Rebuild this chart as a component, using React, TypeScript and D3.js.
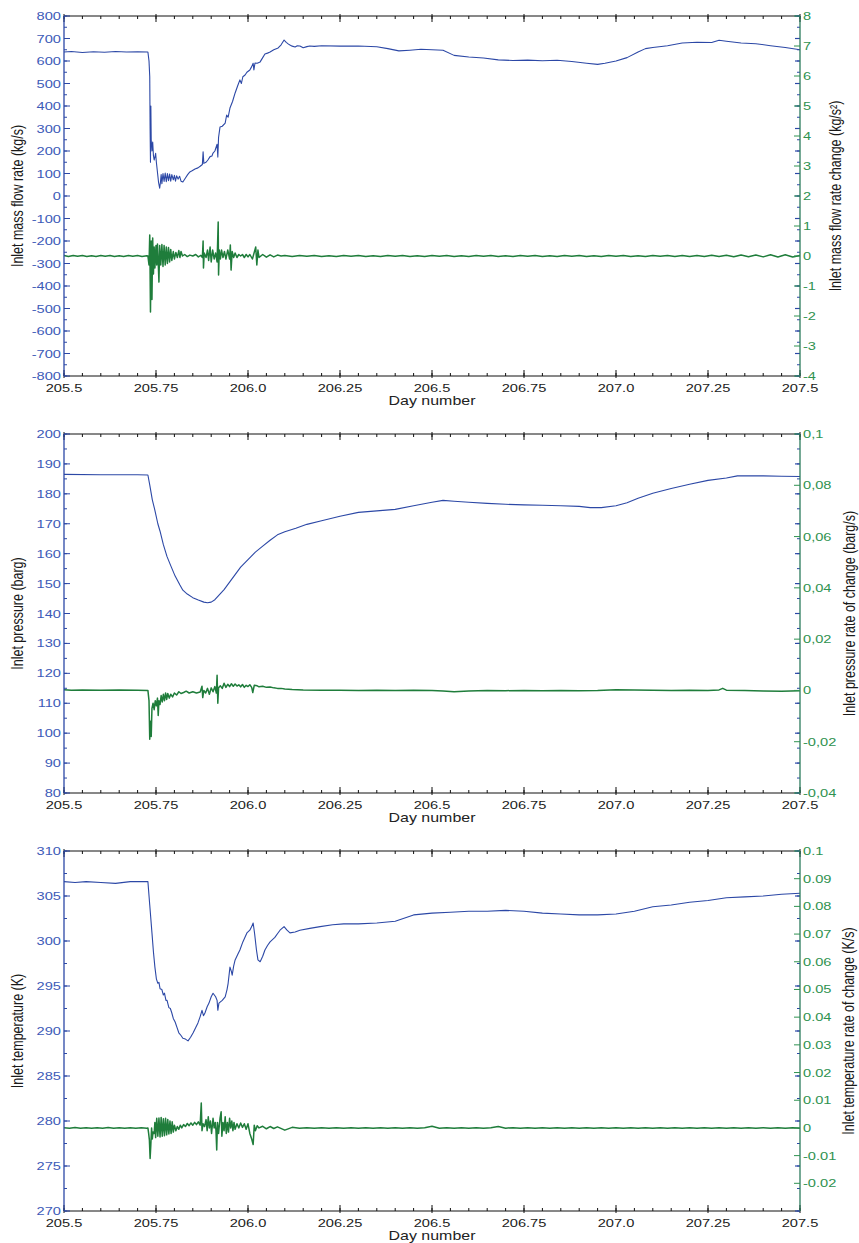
import React from "react";
import * as d3 from "d3";

// ---- shared x axis ----
const dayDomain = [205.5, 207.5];
const dayTicks = [205.5, 205.75, 206, 206.25, 206.5, 206.75, 207, 207.25, 207.5];
const dayTickLabels = ["205.5", "205.75", "206.0", "206.25", "206.5", "206.75", "207.0", "207.25", "207.5"];

// ---- panel 1: inlet mass flow rate (kg/s) ----
const massFlow: [number, number][] = [
  [205.5, 640], [205.52, 642], [205.55, 638], [205.58, 641], [205.61, 639], [205.64, 642], [205.67, 640],
  [205.7, 641], [205.728, 640], [205.731, 600], [205.733, 530], [205.734, 300], [205.735, 150], [205.736, 400],
  [205.737, 250], [205.739, 200], [205.741, 240], [205.743, 180], [205.745, 160], [205.747, 173], [205.749, 190],
  [205.751, 150], [205.753, 120], [205.757, 60], [205.76, 35], [205.762, 60], [205.764, 95], [205.766, 55],
  [205.769, 100], [205.772, 65], [205.775, 102], [205.778, 64], [205.781, 100], [205.784, 68], [205.787, 98],
  [205.79, 66], [205.793, 95], [205.797, 72], [205.8, 92], [205.803, 66], [205.806, 90], [205.81, 75],
  [205.814, 88], [205.818, 66], [205.823, 62], [205.83, 80], [205.836, 95], [205.842, 107], [205.848, 112],
  [205.856, 120], [205.864, 125], [205.87, 132], [205.876, 140], [205.878, 196], [205.88, 145], [205.886, 150],
  [205.891, 160], [205.897, 175], [205.902, 178], [205.905, 191], [205.91, 200], [205.916, 230], [205.918, 173],
  [205.92, 260], [205.924, 307], [205.93, 310], [205.938, 324], [205.942, 360], [205.946, 350], [205.951, 391],
  [205.958, 420], [205.965, 458], [205.972, 490], [205.978, 516], [205.982, 500], [205.986, 530], [205.992, 538],
  [205.997, 550], [206.005, 560], [206.01, 575], [206.014, 590], [206.016, 560], [206.019, 591], [206.025, 590],
  [206.033, 596], [206.04, 615], [206.046, 631], [206.053, 635], [206.06, 640], [206.07, 650], [206.082, 658],
  [206.09, 672], [206.098, 693], [206.104, 683], [206.11, 675], [206.114, 671], [206.12, 666], [206.128, 662],
  [206.134, 668], [206.141, 667], [206.15, 659], [206.16, 664], [206.168, 667], [206.18, 665], [206.2, 668],
  [206.25, 666], [206.3, 667], [206.35, 663], [206.38, 655], [206.41, 645], [206.44, 648], [206.47, 652],
  [206.5, 650], [206.53, 648], [206.56, 625], [206.6, 618], [206.64, 613], [206.68, 605], [206.72, 602],
  [206.76, 604], [206.8, 601], [206.84, 603], [206.88, 598], [206.92, 590], [206.95, 585], [206.97, 590],
  [207.0, 600], [207.03, 615], [207.06, 640], [207.08, 655], [207.1, 660], [207.14, 668], [207.18, 680],
  [207.22, 683], [207.26, 682], [207.28, 692], [207.3, 688], [207.34, 680], [207.38, 677], [207.42, 668],
  [207.46, 660], [207.5, 650],
];
// inlet mass flow rate change (kg/s²)
const massFlowChange: [number, number][] = [
  [205.5, 0.015], [205.512, -0.015], [205.525, 0.02], [205.537, -0.01], [205.55, 0.015], [205.562, -0.02],
  [205.575, 0.01], [205.587, -0.015], [205.6, 0.02], [205.612, -0.01], [205.625, 0.015], [205.637, -0.02],
  [205.65, 0.01], [205.662, -0.015], [205.675, 0.02], [205.687, -0.01], [205.7, 0.015], [205.712, -0.015],
  [205.725, 0.01], [205.728, 0.0], [205.731, -0.3], [205.733, 0.7], [205.735, -1.87], [205.737, 0.5],
  [205.739, -1.45], [205.741, 0.6], [205.743, -0.6], [205.745, 0.3], [205.747, -0.4], [205.75, 0.35],
  [205.752, -0.3], [205.754, 0.4], [205.756, -0.2], [205.758, -0.87], [205.76, 0.35], [205.763, -0.3],
  [205.766, 0.38], [205.769, -0.35], [205.772, 0.35], [205.775, -0.3], [205.778, 0.3], [205.781, -0.25],
  [205.784, 0.28], [205.787, -0.2], [205.79, 0.22], [205.793, -0.15], [205.797, 0.15], [205.8, -0.1],
  [205.804, 0.12], [205.808, -0.05], [205.812, 0.18], [205.815, -0.05], [205.818, 0.15], [205.822, 0.0],
  [205.828, 0.05], [205.835, -0.02], [205.842, 0.03], [205.85, 0.0], [205.858, 0.05], [205.865, -0.03],
  [205.872, 0.02], [205.876, -0.05], [205.878, 0.5], [205.879, -0.4], [205.881, 0.1], [205.886, -0.05],
  [205.89, 0.2], [205.893, -0.15], [205.897, 0.3], [205.9, -0.2], [205.904, 0.2], [205.908, -0.1],
  [205.912, 0.1], [205.916, -0.2], [205.919, 1.13], [205.92, -0.63], [205.922, 0.2], [205.925, -0.1],
  [205.928, 0.2], [205.932, -0.05], [205.936, 0.15], [205.94, -0.1], [205.945, 0.2], [205.95, -0.1],
  [205.952, 0.37], [205.954, -0.47], [205.957, 0.15], [205.961, -0.05], [205.965, 0.1], [205.97, -0.05],
  [205.975, 0.05], [205.98, 0.0], [205.985, 0.05], [205.99, -0.05], [205.995, 0.05], [206.0, -0.03],
  [206.005, 0.05], [206.012, -0.1], [206.021, 0.3], [206.024, -0.3], [206.027, 0.2], [206.03, -0.05],
  [206.04, 0.05], [206.05, -0.04], [206.06, 0.04], [206.07, -0.03], [206.08, 0.03], [206.09, 0.0],
  [206.1, 0.02], [206.12, -0.015], [206.14, 0.015], [206.16, -0.01], [206.18, 0.015], [206.2, -0.015],
  [206.22, 0.01], [206.24, -0.015], [206.26, 0.015], [206.28, -0.01], [206.3, 0.015], [206.32, -0.015],
  [206.34, 0.01], [206.36, -0.015], [206.38, 0.015], [206.4, -0.01], [206.42, 0.015], [206.44, -0.015],
  [206.46, 0.01], [206.48, -0.015], [206.5, 0.015], [206.52, -0.01], [206.54, 0.015], [206.56, -0.015],
  [206.58, 0.01], [206.6, -0.015], [206.62, 0.015], [206.64, -0.01], [206.66, 0.015], [206.68, -0.015],
  [206.7, 0.01], [206.72, -0.015], [206.74, 0.015], [206.76, -0.01], [206.78, 0.015], [206.8, -0.015],
  [206.82, 0.01], [206.84, -0.015], [206.86, 0.015], [206.88, -0.01], [206.9, 0.015], [206.92, -0.015],
  [206.94, 0.01], [206.96, -0.015], [206.98, 0.015], [207.0, -0.01], [207.02, 0.015], [207.04, -0.015],
  [207.06, 0.01], [207.08, -0.015], [207.1, 0.015], [207.12, -0.01], [207.14, 0.015], [207.16, -0.015],
  [207.18, 0.02], [207.2, -0.015], [207.22, 0.02], [207.24, -0.02], [207.26, 0.025], [207.28, -0.02],
  [207.3, 0.025], [207.32, -0.025], [207.34, 0.03], [207.36, -0.025], [207.38, 0.035], [207.4, -0.03],
  [207.42, 0.04], [207.44, -0.035], [207.46, 0.04], [207.48, -0.035], [207.5, 0.02],
];

// ---- panel 2: inlet pressure (barg) ----
const pressure: [number, number][] = [
  [205.5, 186.5], [205.6, 186.4], [205.7, 186.4], [205.728, 186.3], [205.733, 183], [205.74, 178],
  [205.747, 174.5], [205.755, 170], [205.761, 167.5], [205.77, 163], [205.78, 159], [205.79, 156],
  [205.802, 152.5], [205.815, 149.5], [205.823, 147.8], [205.835, 146.5], [205.85, 145.3], [205.865, 144.5],
  [205.88, 143.8], [205.89, 143.6], [205.9, 143.8], [205.91, 144.6], [205.92, 146], [205.935, 148],
  [205.95, 150.5], [205.965, 153], [205.98, 155.5], [206.0, 158], [206.02, 160.5], [206.04, 162.5],
  [206.06, 164.5], [206.08, 166.3], [206.1, 167.3], [206.13, 168.5], [206.16, 169.8], [206.2, 171],
  [206.25, 172.5], [206.3, 173.8], [206.35, 174.3], [206.4, 174.8], [206.45, 176], [206.5, 177.2],
  [206.53, 177.8], [206.56, 177.5], [206.6, 177.2], [206.65, 176.8], [206.7, 176.5], [206.75, 176.3],
  [206.8, 176.2], [206.85, 176.0], [206.9, 175.8], [206.93, 175.4], [206.96, 175.4], [207.0, 176.0],
  [207.03, 177], [207.06, 178.5], [207.1, 180.2], [207.15, 181.8], [207.2, 183.2], [207.25, 184.5],
  [207.3, 185.3], [207.33, 186], [207.4, 186], [207.45, 185.9], [207.5, 185.8],
];
// inlet pressure rate of change (barg/s)
const pressureChange: [number, number][] = [
  [205.5, 0.0003], [205.52, 0.0001], [205.55, 0.0002], [205.6, 0.0001], [205.65, 0.0002], [205.7, 0.0001],
  [205.728, 0.0], [205.731, -0.004], [205.733, -0.019], [205.735, -0.012], [205.737, -0.018], [205.739, -0.007],
  [205.742, -0.005], [205.745, -0.0075], [205.748, -0.004], [205.751, -0.006], [205.754, -0.003],
  [205.756, -0.0098], [205.758, -0.004], [205.761, -0.0055], [205.764, -0.002], [205.767, -0.0045],
  [205.77, -0.0015], [205.773, -0.004], [205.776, -0.001], [205.779, -0.0035], [205.782, -0.0012],
  [205.786, -0.003], [205.79, -0.0015], [205.795, -0.0025], [205.8, -0.001], [205.806, -0.0018],
  [205.812, -0.0005], [205.818, -0.0012], [205.825, -0.0008], [205.832, -0.0003], [205.84, -0.001],
  [205.85, -0.0005], [205.86, -0.001], [205.87, -0.0006], [205.875, 0.0016], [205.877, -0.0028],
  [205.88, 0.0], [205.885, -0.001], [205.89, 0.0008], [205.895, -0.0015], [205.9, 0.001], [205.905, -0.0005],
  [205.91, 0.0015], [205.914, -0.001], [205.916, 0.0059], [205.918, -0.005], [205.92, 0.001],
  [205.925, 0.0018], [205.93, 0.0008], [205.935, 0.0028], [205.94, 0.0012], [205.945, 0.0024],
  [205.95, 0.0015], [205.955, 0.0026], [205.96, 0.0016], [205.965, 0.0025], [205.97, 0.0017],
  [205.975, 0.0022], [205.98, 0.0014], [205.985, 0.0023], [205.99, 0.0012], [205.995, 0.002],
  [206.0, 0.0015], [206.005, 0.0022], [206.01, 0.0012], [206.013, -0.0008], [206.017, 0.002],
  [206.025, 0.0018], [206.03, 0.0014], [206.04, 0.0016], [206.05, 0.0012], [206.06, 0.0013],
  [206.07, 0.001], [206.08, 0.0008], [206.09, 0.0008], [206.1, 0.0006], [206.12, 0.0004], [206.15, 0.0002],
  [206.2, 0.0001], [206.25, 0.0001], [206.3, 0.0], [206.35, 0.0001], [206.4, 0.0], [206.45, 0.0001],
  [206.5, 0.0], [206.53, -0.0002], [206.56, -0.0005], [206.6, -0.0002], [206.65, 0.0], [206.7, -0.0001],
  [206.75, 0.0], [206.8, -0.0001], [206.85, 0.0], [206.9, -0.0001], [206.95, 0.0], [207.0, 0.0003],
  [207.05, 0.0002], [207.1, 0.0001], [207.15, 0.0], [207.2, 0.0001], [207.25, 0.0], [207.28, 0.0002],
  [207.29, 0.0008], [207.3, 0.0001], [207.35, 0.0], [207.4, -0.0002], [207.45, -0.0003], [207.5, -0.0001],
];

// ---- panel 3: inlet temperature (K) ----
const temperature: [number, number][] = [
  [205.5, 306.6], [205.53, 306.5], [205.56, 306.6], [205.6, 306.5], [205.64, 306.4], [205.68, 306.6],
  [205.728, 306.6], [205.733, 304], [205.739, 300.9], [205.743, 298.8], [205.747, 297.1], [205.751, 295.8],
  [205.755, 295.3], [205.758, 295.4], [205.761, 294.7], [205.766, 294.6], [205.77, 294.0], [205.773, 294.2],
  [205.777, 293.4], [205.78, 293.4], [205.785, 292.6], [205.789, 292.5], [205.793, 292.0], [205.797, 291.4],
  [205.802, 291.0], [205.807, 290.4], [205.812, 289.8], [205.818, 289.5], [205.823, 289.2], [205.83, 289.1],
  [205.837, 288.9], [205.844, 289.3], [205.851, 289.8], [205.858, 290.4], [205.864, 290.9], [205.87, 291.6],
  [205.875, 292.3], [205.879, 291.7], [205.883, 292.0], [205.889, 292.7], [205.894, 293.1], [205.9, 293.8],
  [205.905, 294.2], [205.912, 293.8], [205.916, 293.4], [205.918, 292.3], [205.921, 293.1], [205.93, 293.4],
  [205.938, 293.8], [205.943, 294.6], [205.946, 295.3], [205.951, 297.1], [205.955, 296.6], [205.957, 296.2],
  [205.961, 297.2], [205.965, 297.9], [205.972, 298.5], [205.978, 299.0], [205.986, 299.9], [205.997, 300.9],
  [206.005, 301.2], [206.01, 301.6], [206.014, 302.0], [206.018, 300.8], [206.023, 299.0], [206.027, 297.9],
  [206.033, 297.7], [206.04, 298.3], [206.046, 299.0], [206.053, 299.5], [206.06, 299.9], [206.073, 300.4],
  [206.08, 300.8], [206.087, 301.2], [206.098, 301.6], [206.106, 301.2], [206.114, 300.9], [206.128, 301.0],
  [206.141, 301.2], [206.168, 301.4], [206.196, 301.6], [206.23, 301.8], [206.26, 301.9], [206.3, 301.9],
  [206.35, 302.0], [206.4, 302.2], [206.45, 302.9], [206.5, 303.1], [206.55, 303.2], [206.6, 303.3],
  [206.65, 303.3], [206.7, 303.4], [206.75, 303.3], [206.8, 303.1], [206.85, 303.0], [206.9, 302.9],
  [206.95, 302.9], [207.0, 303.0], [207.05, 303.3], [207.1, 303.8], [207.15, 304.0], [207.2, 304.3],
  [207.25, 304.5], [207.3, 304.8], [207.35, 304.9], [207.4, 305.0], [207.45, 305.2], [207.5, 305.3],
];
// inlet temperature rate of change (K/s)
const temperatureChange: [number, number][] = [
  [205.5, 0.0001], [205.515, -0.0001], [205.53, 0.00015], [205.545, -0.0001], [205.56, 0.0001],
  [205.575, -0.00015], [205.59, 0.0001], [205.605, -0.0001], [205.62, 0.00015], [205.635, -0.0001],
  [205.65, 0.0001], [205.665, -0.0001], [205.68, 0.0001], [205.695, -0.00015], [205.71, 0.0001],
  [205.725, -0.0001], [205.728, 0.0], [205.73, -0.002], [205.732, -0.0043], [205.734, -0.011],
  [205.736, -0.006], [205.738, 0.0], [205.74, -0.004], [205.742, -0.0015], [205.745, -0.002],
  [205.747, 0.002], [205.749, -0.0035], [205.752, 0.0035], [205.755, -0.003], [205.758, 0.0036],
  [205.761, -0.0033], [205.764, 0.0038], [205.767, -0.003], [205.77, 0.0033], [205.773, -0.0028],
  [205.776, 0.0035], [205.779, -0.0025], [205.782, 0.003], [205.785, -0.0022], [205.788, 0.0025],
  [205.791, -0.002], [205.794, 0.0022], [205.797, -0.0015], [205.8, 0.001], [205.804, -0.001],
  [205.808, 0.0005], [205.812, -0.0005], [205.816, 0.001], [205.82, 0.0], [205.825, 0.0012], [205.83, 0.0005],
  [205.835, 0.0016], [205.84, 0.0008], [205.845, 0.0018], [205.85, 0.001], [205.855, 0.002], [205.86, 0.0012],
  [205.865, 0.0022], [205.87, 0.001], [205.873, 0.009], [205.875, -0.001], [205.878, 0.0015], [205.882, 0.0005],
  [205.886, 0.003], [205.889, -0.001], [205.892, 0.004], [205.895, 0.0], [205.898, 0.0025], [205.901, -0.002],
  [205.905, 0.0035], [205.908, 0.0], [205.911, 0.002], [205.913, -0.001], [205.915, -0.008], [205.917, 0.002],
  [205.92, -0.002], [205.924, 0.0035], [205.927, 0.0058], [205.929, -0.003], [205.932, 0.002],
  [205.935, -0.001], [205.938, 0.004], [205.941, -0.002], [205.944, 0.002], [205.947, -0.0015],
  [205.95, 0.0035], [205.953, 0.0], [205.956, 0.0025], [205.959, -0.001], [205.962, 0.002], [205.965, -0.0005],
  [205.97, 0.0015], [205.975, 0.0], [205.98, 0.0018], [205.985, 0.0002], [205.99, 0.0015], [205.995, -0.0005],
  [206.0, 0.0015], [206.005, -0.002], [206.01, -0.004], [206.014, -0.006], [206.017, 0.001], [206.02, -0.001],
  [206.025, 0.0008], [206.03, 0.0], [206.04, 0.0006], [206.05, -0.0003], [206.06, 0.0005], [206.07, -0.0002],
  [206.08, 0.0004], [206.1, -0.0008], [206.12, 0.0002], [206.14, -0.0001], [206.16, 0.0001],
  [206.18, -0.0001], [206.2, 0.0001], [206.22, -0.0001], [206.24, 0.0001], [206.26, -0.0001],
  [206.28, 0.0001], [206.3, -0.0001], [206.32, 0.0001], [206.34, -0.0001], [206.36, 0.0001],
  [206.38, -0.0001], [206.4, 0.0001], [206.42, -0.0001], [206.44, 0.0001], [206.46, -0.0001],
  [206.48, 0.0001], [206.5, 0.0006], [206.52, -0.0001], [206.54, 0.0001], [206.56, -0.0001],
  [206.58, 0.0001], [206.6, -0.0001], [206.62, 0.0001], [206.64, -0.0001], [206.66, 0.0001],
  [206.68, 0.0005], [206.7, -0.0001], [206.72, 0.0001], [206.74, -0.0001], [206.76, 0.0001],
  [206.78, -0.0001], [206.8, 0.0001], [206.82, -0.0001], [206.84, 0.0001], [206.86, -0.0001],
  [206.88, 0.0001], [206.9, -0.0001], [206.92, 0.0001], [206.94, -0.0001], [206.96, 0.0001],
  [206.98, -0.0001], [207.0, 0.0001], [207.02, -0.0001], [207.04, 0.0001], [207.06, -0.0001],
  [207.08, 0.0001], [207.1, -0.0001], [207.12, 0.0001], [207.14, -0.0001], [207.16, 0.0001],
  [207.18, -0.0001], [207.2, 0.0001], [207.22, -0.0001], [207.24, 0.0001], [207.26, -0.0001],
  [207.28, 0.0001], [207.3, -0.0001], [207.32, 0.0001], [207.34, -0.0001], [207.36, 0.0001],
  [207.38, -0.0001], [207.4, 0.0001], [207.42, -0.0001], [207.44, 0.0001], [207.46, -0.0001],
  [207.48, 0.0001], [207.5, -0.0001],
];

// axis tick labels
const flowTickLabels = ["800", "700", "600", "500", "400", "300", "200", "100", "0", "-100", "-200", "-300", "-400", "-500", "-600", "-700", "-800"];
const flowChangeTickLabels = ["8", "7", "6", "5", "4", "3", "2", "1", "0", "-1", "-2", "-3", "-4"];
const pressureTickLabels = ["200", "190", "180", "170", "160", "150", "140", "130", "120", "110", "100", "90", "80"];
const pressureChangeTickLabels = ["0,1", "0,08", "0,06", "0,04", "0,02", "0", "-0,02", "-0,04"];
const temperatureTickLabels = ["310", "305", "300", "295", "290", "285", "280", "275", "270"];
const temperatureChangeTickLabels = ["0.1", "0.09", "0.08", "0.07", "0.06", "0.05", "0.04", "0.03", "0.02", "0.01", "0", "-0.01", "-0.02"];

const W = 859;
const H = 1243;
const PLOT_LEFT = 64;
const PLOT_RIGHT = 800;
const SX = 1.33; // the source figure is stretched horizontally

const BLUE = "#2c48a6";
const BLUE_TXT = "#3d5bb8";
const GREEN = "#1f7d3b";
const GREEN_TXT = "#2f9250";
const RIGHT_AXIS = "#2b7a5c";
const FONT = "'Liberation Sans', Arial, Helvetica, sans-serif";

const panels = [
  {
    top: 16, height: 360,
    blue: massFlow, green: massFlowChange,
    leftDomain: [-800, 800], leftStep: 100, leftMinor: 50, leftLabels: flowTickLabels,
    rightDomain: [-4, 8], rightTicks: d3.range(8, -4.001, -1), rightLabels: flowChangeTickLabels,
    leftTitle: "Inlet mass flow rate (kg/s)",
    rightTitle: "Inlet mass flow rate change (kg/s\u00b2)", rightTitleX: 841,
  },
  {
    top: 434, height: 359,
    blue: pressure, green: pressureChange,
    leftDomain: [80, 200], leftStep: 10, leftMinor: 5, leftLabels: pressureTickLabels,
    rightDomain: [-0.04, 0.1], rightTicks: d3.range(0.1, -0.0401, -0.02), rightLabels: pressureChangeTickLabels,
    leftTitle: "Inlet pressure (barg)",
    rightTitle: "Inlet pressure rate of change (barg/s)", rightTitleX: 855,
  },
  {
    top: 851, height: 360,
    blue: temperature, green: temperatureChange,
    leftDomain: [270, 310], leftStep: 5, leftMinor: 2.5, leftLabels: temperatureTickLabels,
    rightDomain: [-0.03, 0.1], rightTicks: d3.range(0.1, -0.0201, -0.01), rightLabels: temperatureChangeTickLabels,
    leftTitle: "Inlet temperature (K)",
    rightTitle: "Inlet temperature rate of change (K/s)", rightTitleX: 854,
  },
];

const Panel = ({ cfg }: { cfg: any }) => {
  const bottom = cfg.top + cfg.height;
  const x = d3.scaleLinear().domain(dayDomain).range([PLOT_LEFT, PLOT_RIGHT]);
  const yL = d3.scaleLinear().domain(cfg.leftDomain).range([bottom, cfg.top]);
  const yR = d3.scaleLinear().domain(cfg.rightDomain).range([bottom, cfg.top]);

  const blueLine = d3.line<[number, number]>().x((d) => x(d[0])).y((d) => yL(d[1]));
  const greenLine = d3.line<[number, number]>().x((d) => x(d[0])).y((d) => yR(d[1]));

  const [l0, l1] = cfg.leftDomain;
  const leftMajor = d3.range(l1, l0 - 1e-9, -cfg.leftStep);
  const leftMinor = d3.range(l0, l1 + 1e-9, cfg.leftMinor);
  const dayMinor = d3.range(205.5, 207.5001, 0.05);
  const midY = (cfg.top + bottom) / 2;

  return (
    <g>
      {/* series */}
      <path d={greenLine(cfg.green) || ""} fill="none" stroke={GREEN} strokeWidth={1.5} strokeLinejoin="round" />
      <path d={blueLine(cfg.blue) || ""} fill="none" stroke={BLUE} strokeWidth={1.1} strokeLinejoin="round" />

      {/* top & bottom axes */}
      <line x1={PLOT_LEFT} x2={PLOT_RIGHT} y1={cfg.top} y2={cfg.top} stroke="#111" strokeWidth={1} />
      <line x1={PLOT_LEFT} x2={PLOT_RIGHT} y1={bottom} y2={bottom} stroke="#111" strokeWidth={1} />
      {dayMinor.map((d, i) => (
        <g key={"dm" + i} stroke="#111" strokeWidth={1}>
          <line x1={x(d)} x2={x(d)} y1={bottom} y2={bottom - 3} />
          <line x1={x(d)} x2={x(d)} y1={cfg.top} y2={cfg.top + 3} />
        </g>
      ))}
      {dayTicks.map((d, i) => (
        <g key={"dM" + i}>
          <line x1={x(d)} x2={x(d)} y1={bottom + 2} y2={bottom - 6} stroke="#111" />
          <line x1={x(d)} x2={x(d)} y1={cfg.top - 2} y2={cfg.top + 6} stroke="#111" />
          <text transform={`translate(${x(d)},${bottom + 16}) scale(${SX},1)`} textAnchor="middle"
            fontSize={11} fill="#222" fontFamily={FONT}>{dayTickLabels[i]}</text>
        </g>
      ))}
      <text transform={`translate(${(PLOT_LEFT + PLOT_RIGHT) / 2},${bottom + 29}) scale(${SX},1)`}
        textAnchor="middle" fontSize={12} fill="#222" fontFamily={FONT}>Day number</text>

      {/* left axis */}
      <line x1={PLOT_LEFT} x2={PLOT_LEFT} y1={cfg.top} y2={bottom} stroke={BLUE} strokeWidth={1.3} />
      {leftMinor.map((v, i) => (
        <g key={"lm" + i} stroke={BLUE} strokeWidth={1}>
          <line x1={PLOT_LEFT} x2={PLOT_LEFT + 3} y1={yL(v)} y2={yL(v)} />
          <line x1={PLOT_RIGHT} x2={PLOT_RIGHT - 3} y1={yL(v)} y2={yL(v)} />
        </g>
      ))}
      {leftMajor.map((v, i) => (
        <g key={"lM" + i}>
          <line x1={PLOT_LEFT} x2={PLOT_LEFT + 6} y1={yL(v)} y2={yL(v)} stroke={BLUE} strokeWidth={1} />
          <line x1={PLOT_RIGHT} x2={PLOT_RIGHT - 5} y1={yL(v)} y2={yL(v)} stroke={BLUE} strokeWidth={1.2} />
          <text transform={`translate(${PLOT_LEFT - 3},${yL(v) + 4}) scale(${SX},1)`} textAnchor="end"
            fontSize={11} fill={BLUE_TXT} fontFamily={FONT}>{cfg.leftLabels[i]}</text>
        </g>
      ))}
      <text transform={`translate(23,${midY}) rotate(-90) scale(1,1.25)`} textAnchor="middle"
        fontSize={12.5} fill="#1a1a1a" fontFamily={FONT}>{cfg.leftTitle}</text>

      {/* right axis */}
      <line x1={PLOT_RIGHT} x2={PLOT_RIGHT} y1={cfg.top} y2={bottom} stroke={RIGHT_AXIS} strokeWidth={1.3} />
      {cfg.rightTicks.map((v: number, i: number) => (
        <g key={"rM" + i}>
          <line x1={PLOT_RIGHT} x2={PLOT_RIGHT - 6} y1={yR(v)} y2={yR(v)} stroke={GREEN_TXT} strokeWidth={1} />
          <text transform={`translate(${PLOT_RIGHT + 3},${yR(v) + 4}) scale(${SX},1)`} textAnchor="start"
            fontSize={11} fill={GREEN_TXT} fontFamily={FONT}>{cfg.rightLabels[i]}</text>
        </g>
      ))}
      <text transform={`translate(${cfg.rightTitleX},${midY}) rotate(-90) scale(1,1.25)`} textAnchor="middle"
        fontSize={12.5} fill="#1a1a1a" fontFamily={FONT}>{cfg.rightTitle}</text>
    </g>
  );
};

const App = () => {
  return (
    <svg width={W} height={H} viewBox={`0 0 ${W} ${H}`}
      style={{ position: "absolute", left: 0, top: 0, background: "#fff" }}>
      <rect width={W} height={H} fill="#fff" />
      {panels.map((p, i) => (
        <Panel key={i} cfg={p} />
      ))}
    </svg>
  );
};

export default App;
